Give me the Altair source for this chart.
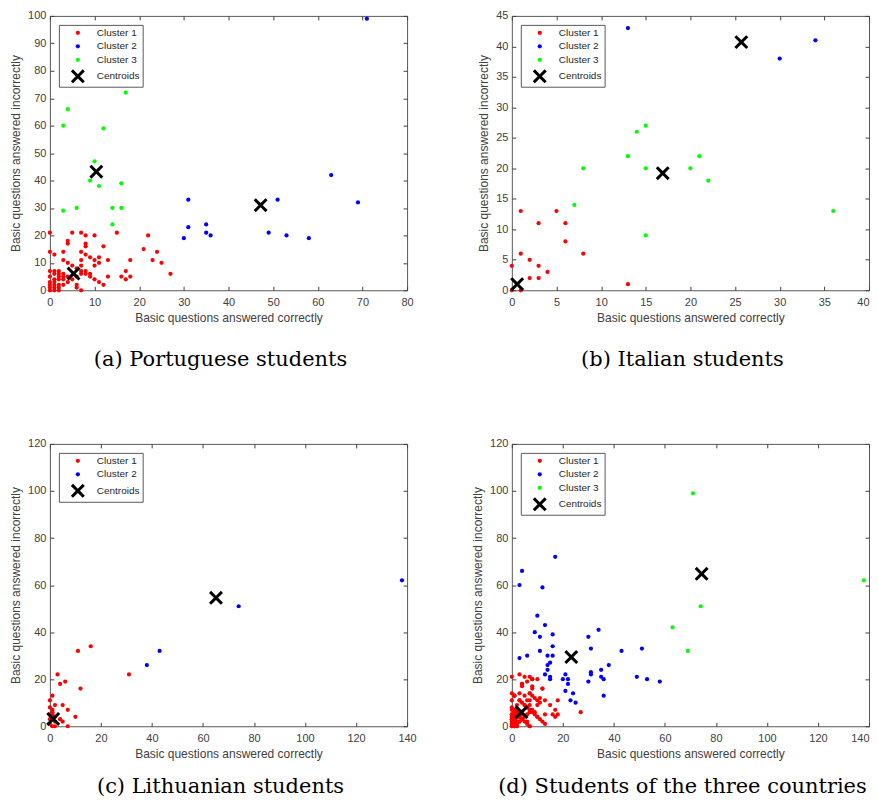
import altair as alt
import pandas as pd

# ---------------- data ----------------
# (a) Portuguese students
p_red_low = [(0,21),(0,14),(0,7),(0,5),(0,3),(0,2),(0,1),(0,0),
             (1,13),(1,7),(1,6),(1,4),(1,3),(1,2),(1,1),(1,0),
             (2,7),(2,6),(2,5),(2,4),(2,2),(2,1),(2,0),
             (3,14),(3,11),(3,6),(3,5),(3,4),(3,2),
             (4,18),(4,17),(4,10),(4,5),(4,3),
             (5,21),(5,9),(5,4),
             (6,8),(6,5),(6,2),(6,1),
             (7,21),(7,14),(7,11),(7,9),(7,7),(7,6),(7,0),
             (8,20),(8,17),(8,16),(8,13),(8,7),(8,6),
             (9,12),(9,6),(9,5),
             (10,20),(10,11),(10,9),(10,4),
             (11,12),(11,10),(11,3),
             (12,16),(12,2),(13,11),(13,5),
             (16,5),(17,7),(17,4),(18,11),(18,5),(27,6)]
p_red_high = [(15,21),(21,15),(22,20),(23,11),(24,14),(25,10)]
p_green = [(3,60),(4,66),(3,29),(6,30),(17,72),(12,59),(10,47),(9,40),
           (11,38),(14,30),(16,30),(16,39),(14,24)]
p_blue_mid = [(30,19),(31,33),(31,23),(35,24),(35,21),(36,20),(49,21),
              (51,33),(53,20),(58,19)]
p_blue_far = [(63,42),(69,32),(71,99)]
p_centroids = [(5.3,6.1),(47.2,31.0),(10.4,43.2)]

# (b) Italian students
i_red = [(0,4),(0,0),(1,13),(1,6),(1,0),(2,5),(2,2),(3,11),(3,4),(3,2),
         (4,3),(5,13),(6,11),(6,8),(8,6),(13,1)]
i_green_low = [(7,14),(8,20),(15,9)]
i_green_high = [(13,22),(14,26),(15,27),(15,20),(20,20),(21,22),(22,18),(36,13)]
i_blue = [(13,43),(30,38),(34,41)]
i_centroids = [(0.6,1.0),(25.7,40.7),(16.9,19.2)]

# (c) Lithuanian students
l_red_low = [(0,11),(1,13),(0,8),(1,7),(2,9),(0,1),(1,0),(2,0),(2,2),(1,5),
             (2,4),(0,3),(1,6),(1,3),(0,5),(3,22),(4,18),(6,19),(5,9),(7,7),
             (7,0),(5,2),(4,3),(10,4),(12,16)]
l_red_high = [(11,32),(16,34),(31,22)]
l_blue_mid = [(38,26),(43,32)]
l_blue_far = [(74,51),(138,62)]
l_centroids = [(1.3,3.1),(65.1,54.6)]

# (d) all three countries
d_centroids = [(3.8,6.0),(23.3,29.4),(74.4,64.8)]

labels_all = ["Cluster 1", "Cluster 2", "Cluster 3", "Centroids"]
colors_all = ["#ff0000", "#0000ff", "#00ff00", "#000000"]

x_ticks_a = [0,10,20,30,40,50,60,70,80]
y_ticks_a = [0,10,20,30,40,50,60,70,80,90,100]
x_ticks_b = [0,5,10,15,20,25,30,35,40]
y_ticks_b = [0,5,10,15,20,25,30,35,40,45]
x_ticks_c = [0,20,40,60,80,100,120,140]
y_ticks_c = [0,20,40,60,80,100,120]

captions = ["(a) Portuguese students", "(b) Italian students",
            "(c) Lithuanian students", "(d) Students of the three countries"]

DOT = 18
# thick "x" marker, drawn in the same symbol size unit as the dots
X_PATH = ("M-3.3,-2.3L-2.3,-3.3L0,-1L2.3,-3.3L3.3,-2.3L1,0"
          "L3.3,2.3L2.3,3.3L0,1L-2.3,3.3L-3.3,2.3L-1,0Z")
TICK = 4


def panel(groups, centroids, used, xdom, ydom, xt, yt, caption, w, h, cap_off, right_col):
    rows = []
    for lab, pts in groups:
        for (x, y) in pts:
            rows.append({"x": x, "y": y, "label": lab})
    for (x, y) in centroids:
        rows.append({"x": x, "y": y, "label": "Centroids"})
    df = pd.DataFrame(rows)
    idx = [labels_all.index(u) for u in used]
    dom = [labels_all[i] for i in idx]
    col = [colors_all[i] for i in idx]
    shp = ["circle" if d != "Centroids" else X_PATH for d in dom]
    xs = alt.Scale(domain=xdom, nice=False, zero=False, padding=0)
    ys = alt.Scale(domain=ydom, nice=False, zero=False, padding=0)
    if right_col:
        xalign = {"condition": {"test": "datum.value == %d" % xdom[1], "value": "right"},
                  "value": "center"}
    else:
        xalign = "center"
    pts = alt.Chart(df).mark_point(filled=True, opacity=1, strokeWidth=0, size=DOT).encode(
        x=alt.X("x:Q", scale=xs, axis=alt.Axis(
            orient="bottom", values=xt, offset=-TICK, tickSize=TICK, domain=False,
            labelFlush=False, labelPadding=6, titlePadding=5, labelAlign=xalign,
            title="Basic questions answered correctly")),
        y=alt.Y("y:Q", scale=ys, axis=alt.Axis(
            orient="left", values=yt, offset=-TICK, tickSize=TICK, domain=False,
            labelFlush=False, labelPadding=4, titlePadding=5,
            title="Basic questions answered incorrectly")),
        color=alt.Color("label:N", scale=alt.Scale(domain=dom, range=col),
                        legend=alt.Legend(title=None)),
        shape=alt.Shape("label:N", scale=alt.Scale(domain=dom, range=shp),
                        legend=alt.Legend(title=None)),
    )
    frame = alt.Chart(df).mark_point(opacity=0).encode(
        x=alt.X("x:Q", scale=xs, axis=alt.Axis(
            orient="top", values=xt, offset=-TICK, tickSize=TICK, domain=False,
            labels=False, title=None)),
        y=alt.Y("y:Q", scale=ys, axis=alt.Axis(
            orient="right", values=yt, offset=-TICK, tickSize=TICK, domain=False,
            labels=False, title=None)),
    )
    return alt.layer(pts, frame).resolve_axis(x="independent", y="independent").properties(
        width=w, height=h,
        title=alt.TitleParams(caption, orient="bottom", frame="group", dx=-8, offset=cap_off),
    )


W = 358
a = panel([("Cluster 1", p_red_low + p_red_high), ("Cluster 2", p_blue_mid + p_blue_far),
           ("Cluster 3", p_green)], p_centroids, labels_all,
          [0, 80], [0, 100], x_ticks_a, y_ticks_a, captions[0], W, 275, 26, False)
b = panel([("Cluster 1", i_red), ("Cluster 2", i_blue),
           ("Cluster 3", i_green_low + i_green_high)], i_centroids, labels_all,
          [0, 40], [0, 45], x_ticks_b, y_ticks_b, captions[1], W, 275, 26, True)
c = panel([("Cluster 1", l_red_low + l_red_high), ("Cluster 2", l_blue_mid + l_blue_far)],
          l_centroids, ["Cluster 1", "Cluster 2", "Centroids"],
          [0, 140], [0, 120], x_ticks_c, y_ticks_c, captions[2], W, 283, 17, False)
d = panel([("Cluster 1", p_red_low + i_red + i_green_low + l_red_low),
           ("Cluster 2", p_green + p_blue_mid + p_red_high + i_blue + i_green_high
            + l_red_high + l_blue_mid),
           ("Cluster 3", p_blue_far + l_blue_far)], d_centroids, labels_all,
          [0, 140], [0, 120], x_ticks_c, y_ticks_c, captions[3], W, 283, 17, True)

chart = alt.concat(a, b, c, d, columns=2, spacing={"row": 66, "column": 54}).resolve_scale(
    color="independent", shape="independent",
    x="independent", y="independent"
).properties(
    padding={"left": 1, "top": 0, "right": 0, "bottom": 0}
).configure_view(
    stroke="#595959", strokeWidth=1
).configure_axis(
    labelFont="Liberation Sans", labelFontSize=11, labelColor="#404040",
    titleFont="Liberation Sans", titleFontSize=12, titleFontWeight="normal",
    titleColor="#404040", tickColor="#404040", tickWidth=1, grid=False
).configure_legend(
    orient="top-left", offset=9, strokeColor="#595959", fillColor="white",
    padding=3, labelFont="Liberation Sans", labelFontSize=10, labelColor="#262626",
    symbolSize=DOT, symbolStrokeWidth=0, rowPadding=3.5, symbolOffset=11,
    labelOffset=14, cornerRadius=0
).configure_title(
    font="DejaVu Serif", fontSize=21, fontWeight="normal", color="black"
)

chart.save("out.html", embed_options={"renderer": "svg", "actions": False})
